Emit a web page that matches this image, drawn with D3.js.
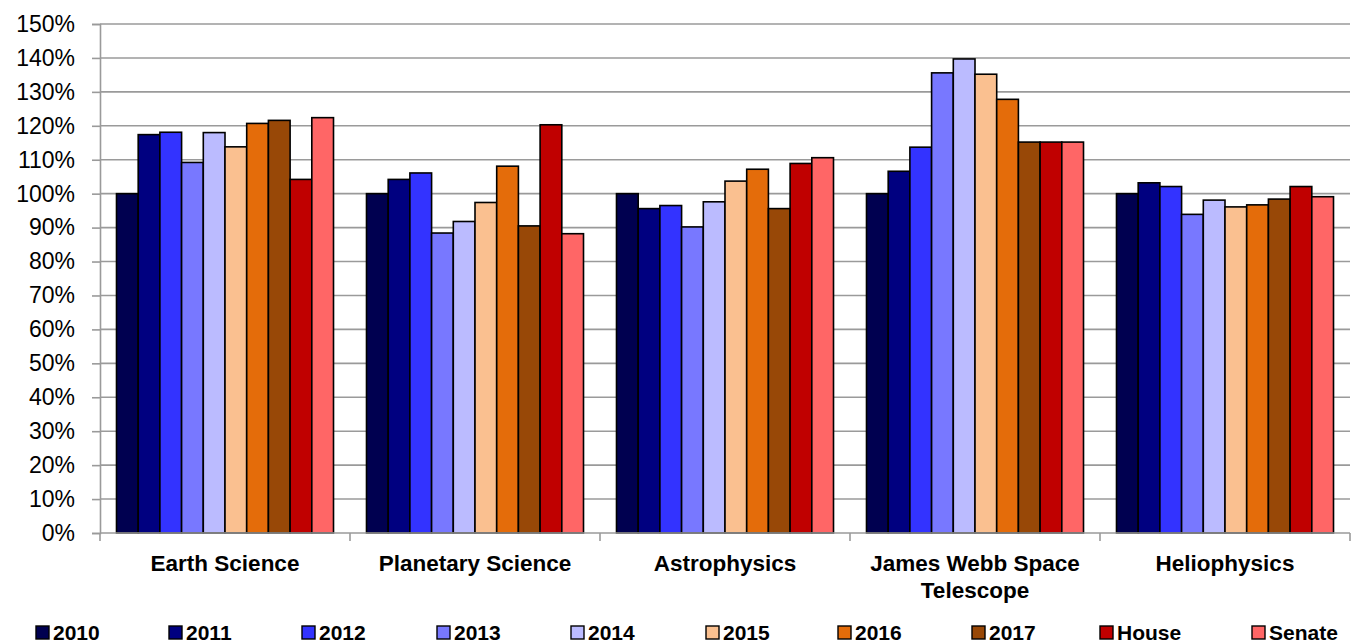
<!DOCTYPE html>
<html>
<head>
<meta charset="utf-8">
<script src="https://cdn.jsdelivr.net/npm/d3@7"></script>
<style>
  html, body { margin: 0; padding: 0; background: #fff; }
  svg { display: block; font-family: Arial, "Liberation Sans", sans-serif; }
</style>
</head>
<body>
<svg id="chart" width="1360" height="644"></svg>
<script>
// Budget relative to FY2010 level, by division
const categories = ["Earth Science", "Planetary Science", "Astrophysics", "James Webb Space Telescope", "Heliophysics"];
const categoryLines = [["Earth Science"], ["Planetary Science"], ["Astrophysics"], ["James Webb Space", "Telescope"], ["Heliophysics"]];
const seriesNames = ["2010", "2011", "2012", "2013", "2014", "2015", "2016", "2017", "House", "Senate"];
const seriesColors = ["#000050", "#000080", "#3333FF", "#7878FF", "#BBBBFF", "#FAC090", "#E46C0A", "#984807", "#C00000", "#FF6666"];

// one array per division, in series order (percent)
const earthScience     = [100, 117.4, 118.1, 109.2, 118.0, 113.8, 120.7, 121.6, 104.2, 122.4];
const planetaryScience = [100, 104.2, 106.1, 88.4, 91.8, 97.4, 108.1, 90.5, 120.3, 88.2];
const astrophysics     = [100, 95.6, 96.5, 90.2, 97.6, 103.7, 107.2, 95.6, 108.9, 110.6];
const jwst             = [100, 106.6, 113.7, 135.6, 139.7, 135.2, 127.8, 115.2, 115.2, 115.2];
const heliophysics     = [100, 103.2, 102.1, 93.9, 98.1, 96.1, 96.7, 98.4, 102.1, 99.1];
const values = [earthScience, planetaryScience, astrophysics, jwst, heliophysics];

const yTicks = [0, 10, 20, 30, 40, 50, 60, 70, 80, 90, 100, 110, 120, 130, 140, 150];

const svg = d3.select("#chart");
const plot = { left: 100, right: 1350, top: 24, bottom: 533 };

const x0 = d3.scaleBand().domain(categories).range([plot.left, plot.right]).padding(0);
const x1 = d3.scaleBand().domain(seriesNames).range([0, x0.bandwidth()]).paddingInner(0).paddingOuter(0.76);
const y = d3.scaleLinear().domain([0, 150]).range([plot.bottom, plot.top]);
const color = d3.scaleOrdinal().domain(seriesNames).range(seriesColors);

// horizontal gridlines
svg.append("g")
  .selectAll("line")
  .data(yTicks.filter(t => t > 0))
  .join("line")
  .attr("x1", plot.left).attr("x2", plot.right)
  .attr("y1", d => y(d)).attr("y2", d => y(d))
  .attr("stroke", "#9a9a9a").attr("stroke-width", 1.6);

// y axis
const yAxis = svg.append("g")
  .attr("transform", `translate(${plot.left},0)`)
  .call(d3.axisLeft(y).tickValues(yTicks).tickFormat(d => d + "%").tickSize(8).tickPadding(17));
yAxis.select(".domain").attr("stroke", "#9a9a9a").attr("stroke-width", 1.6);
yAxis.selectAll(".tick line").attr("stroke", "#9a9a9a").attr("stroke-width", 1.6);
yAxis.selectAll(".tick text")
  .attr("font-size", 23).attr("fill", "#000")
  .attr("font-family", 'Arial, "Liberation Sans", sans-serif');

// bars
const groups = svg.append("g")
  .selectAll("g")
  .data(categories)
  .join("g")
  .attr("transform", d => `translate(${x0(d)},0)`);

groups.selectAll("rect")
  .data((d, i) => seriesNames.map((s, j) => ({ series: s, value: values[i][j] })))
  .join("rect")
  .attr("x", d => x1(d.series))
  .attr("width", x1.bandwidth())
  .attr("y", d => y(d.value))
  .attr("height", d => y(0) - y(d.value))
  .attr("fill", d => color(d.series))
  .attr("stroke", "#000").attr("stroke-width", 1.6);

// x axis line and category ticks
svg.append("line")
  .attr("x1", plot.left).attr("x2", plot.right)
  .attr("y1", y(0)).attr("y2", y(0))
  .attr("stroke", "#9a9a9a").attr("stroke-width", 1.6);
svg.append("g")
  .selectAll("line")
  .data(categories.map(c => x0(c)).concat([plot.right]))
  .join("line")
  .attr("x1", d => d).attr("x2", d => d)
  .attr("y1", y(0)).attr("y2", y(0) + 8)
  .attr("stroke", "#9a9a9a").attr("stroke-width", 1.6);

// category labels
const catLabels = svg.append("g")
  .selectAll("text")
  .data(categories)
  .join("text")
  .attr("x", d => x0(d) + x0.bandwidth() / 2)
  .attr("y", 571)
  .attr("text-anchor", "middle")
  .attr("font-size", 22.5).attr("font-weight", "bold").attr("fill", "#000");
catLabels.selectAll("tspan")
  .data((d, i) => categoryLines[i])
  .join("tspan")
  .attr("x", function () { return this.parentNode.getAttribute("x"); })
  .attr("dy", (d, i) => i === 0 ? 0 : 26.5)
  .text(d => d);

// legend
const legendX = [36, 169, 302, 437, 571, 706, 838, 972, 1100, 1252];
const legend = svg.append("g")
  .selectAll("g")
  .data(seriesNames)
  .join("g")
  .attr("transform", (d, i) => `translate(${legendX[i]},626)`);
legend.append("rect")
  .attr("width", 13).attr("height", 13)
  .attr("fill", d => color(d))
  .attr("stroke", "#000").attr("stroke-width", 1.4);
legend.append("text")
  .attr("x", 17).attr("y", 13.5)
  .attr("font-size", 21).attr("font-weight", "bold").attr("fill", "#000")
  .text(d => d);
</script>
</body>
</html>
